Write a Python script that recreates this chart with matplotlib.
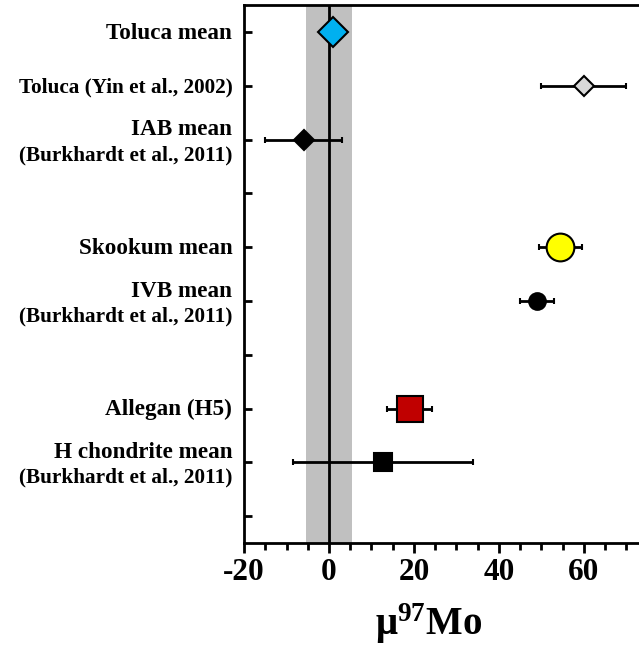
import matplotlib
matplotlib.use("Agg")
import matplotlib.pyplot as plt
from matplotlib.ticker import MultipleLocator

plt.rcParams["font.family"] = ["Liberation Serif", "DejaVu Serif"]
plt.rcParams["font.weight"] = "bold"
plt.rcParams["axes.unicode_minus"] = False
plt.rcParams["mathtext.fontset"] = "custom"
plt.rcParams["mathtext.default"] = "regular"
plt.rcParams["mathtext.rm"] = "Liberation Serif:bold"

# mu97Mo values (ppm) and 2SD uncertainties
samples = ["Toluca mean", "Toluca", "IAB mean", "Skookum mean",
           "IVB mean", "Allegan (H5)", "H chondrite mean"]
references = ["", "(Yin et al., 2002)", "(Burkhardt et al., 2011)", "",
              "(Burkhardt et al., 2011)", "", "(Burkhardt et al., 2011)"]
mu97 = [1.0, 60.0, -6.0, 54.5, 49.0, 19.0, 12.6]
err = [0.0, 10.0, 9.0, 5.0, 4.0, 5.3, 21.2]
rows = [1, 2, 3, 5, 6, 8, 9]

# Terrestrial standard reproducibility band
band_half_width = 5.4

markers = ["D", "D", "D", "o", "o", "s", "s"]
faces = ["#00b0f0", "#d9d9d9", "black", "#ffff00", "black", "#c00000", "black"]
sizes = [15.5, 10.2, 10.0, 20.0, 12.0, 18.5, 13.2]

fig = plt.figure(figsize=(6.39, 6.45), dpi=100)
ax = fig.add_axes([0.382, 0.158, 0.618, 0.834])

ax.axvspan(-band_half_width, band_half_width, color="#c0c0c0", lw=0, zorder=0)
ax.axvline(0, color="black", lw=2, zorder=1)

for y, v, e, m, fc, ms in zip(rows, mu97, err, markers, faces, sizes):
    ax.errorbar(v, y, xerr=e, fmt=m, mfc=fc, mec="black", mew=1.5, ms=ms,
                ecolor="black", elinewidth=2, capsize=2, capthick=2.5,
                zorder=3)

ax.set_xlim(-20, 73)
ax.set_ylim(10.5, 0.5)

ax.xaxis.set_major_locator(MultipleLocator(20))
ax.xaxis.set_minor_locator(MultipleLocator(5))
ax.set_yticks(range(1, 11))
ax.set_yticklabels([])

ax.tick_params(axis="x", which="major", direction="out", length=7, width=2,
               labelsize=22.5, pad=4)
ax.tick_params(axis="x", which="minor", direction="out", length=5, width=2)
ax.tick_params(axis="y", which="major", direction="in", length=6, width=2)

for s in ["left", "bottom", "top"]:
    ax.spines[s].set_linewidth(2)
ax.spines["right"].set_visible(False)

for lab in ax.get_xticklabels():
    lab.set_fontweight("bold")

trans = ax.get_yaxis_transform()
for y, name, ref in zip(rows, samples, references):
    if ref and name == "Toluca":
        ax.text(-0.03, y + 0.12, f"{name} {ref}", transform=trans,
                ha="right", va="baseline", fontsize=15.3, fontweight="bold")
    elif ref:
        ax.text(-0.03, y - 0.08, name, transform=trans, ha="right",
                va="baseline", fontsize=16.7, fontweight="bold")
        ax.text(-0.03, y + 0.38, ref, transform=trans, ha="right",
                va="baseline", fontsize=15.3, fontweight="bold")
    else:
        ax.text(-0.03, y + 0.12, name, transform=trans, ha="right",
                va="baseline", fontsize=16.7, fontweight="bold")

ax.set_xlabel("μ$^{97}$Mo", fontsize=28, fontweight="bold")
ax.xaxis.set_label_coords(0.466, -0.108)

fig.savefig("out.png", dpi=100)
